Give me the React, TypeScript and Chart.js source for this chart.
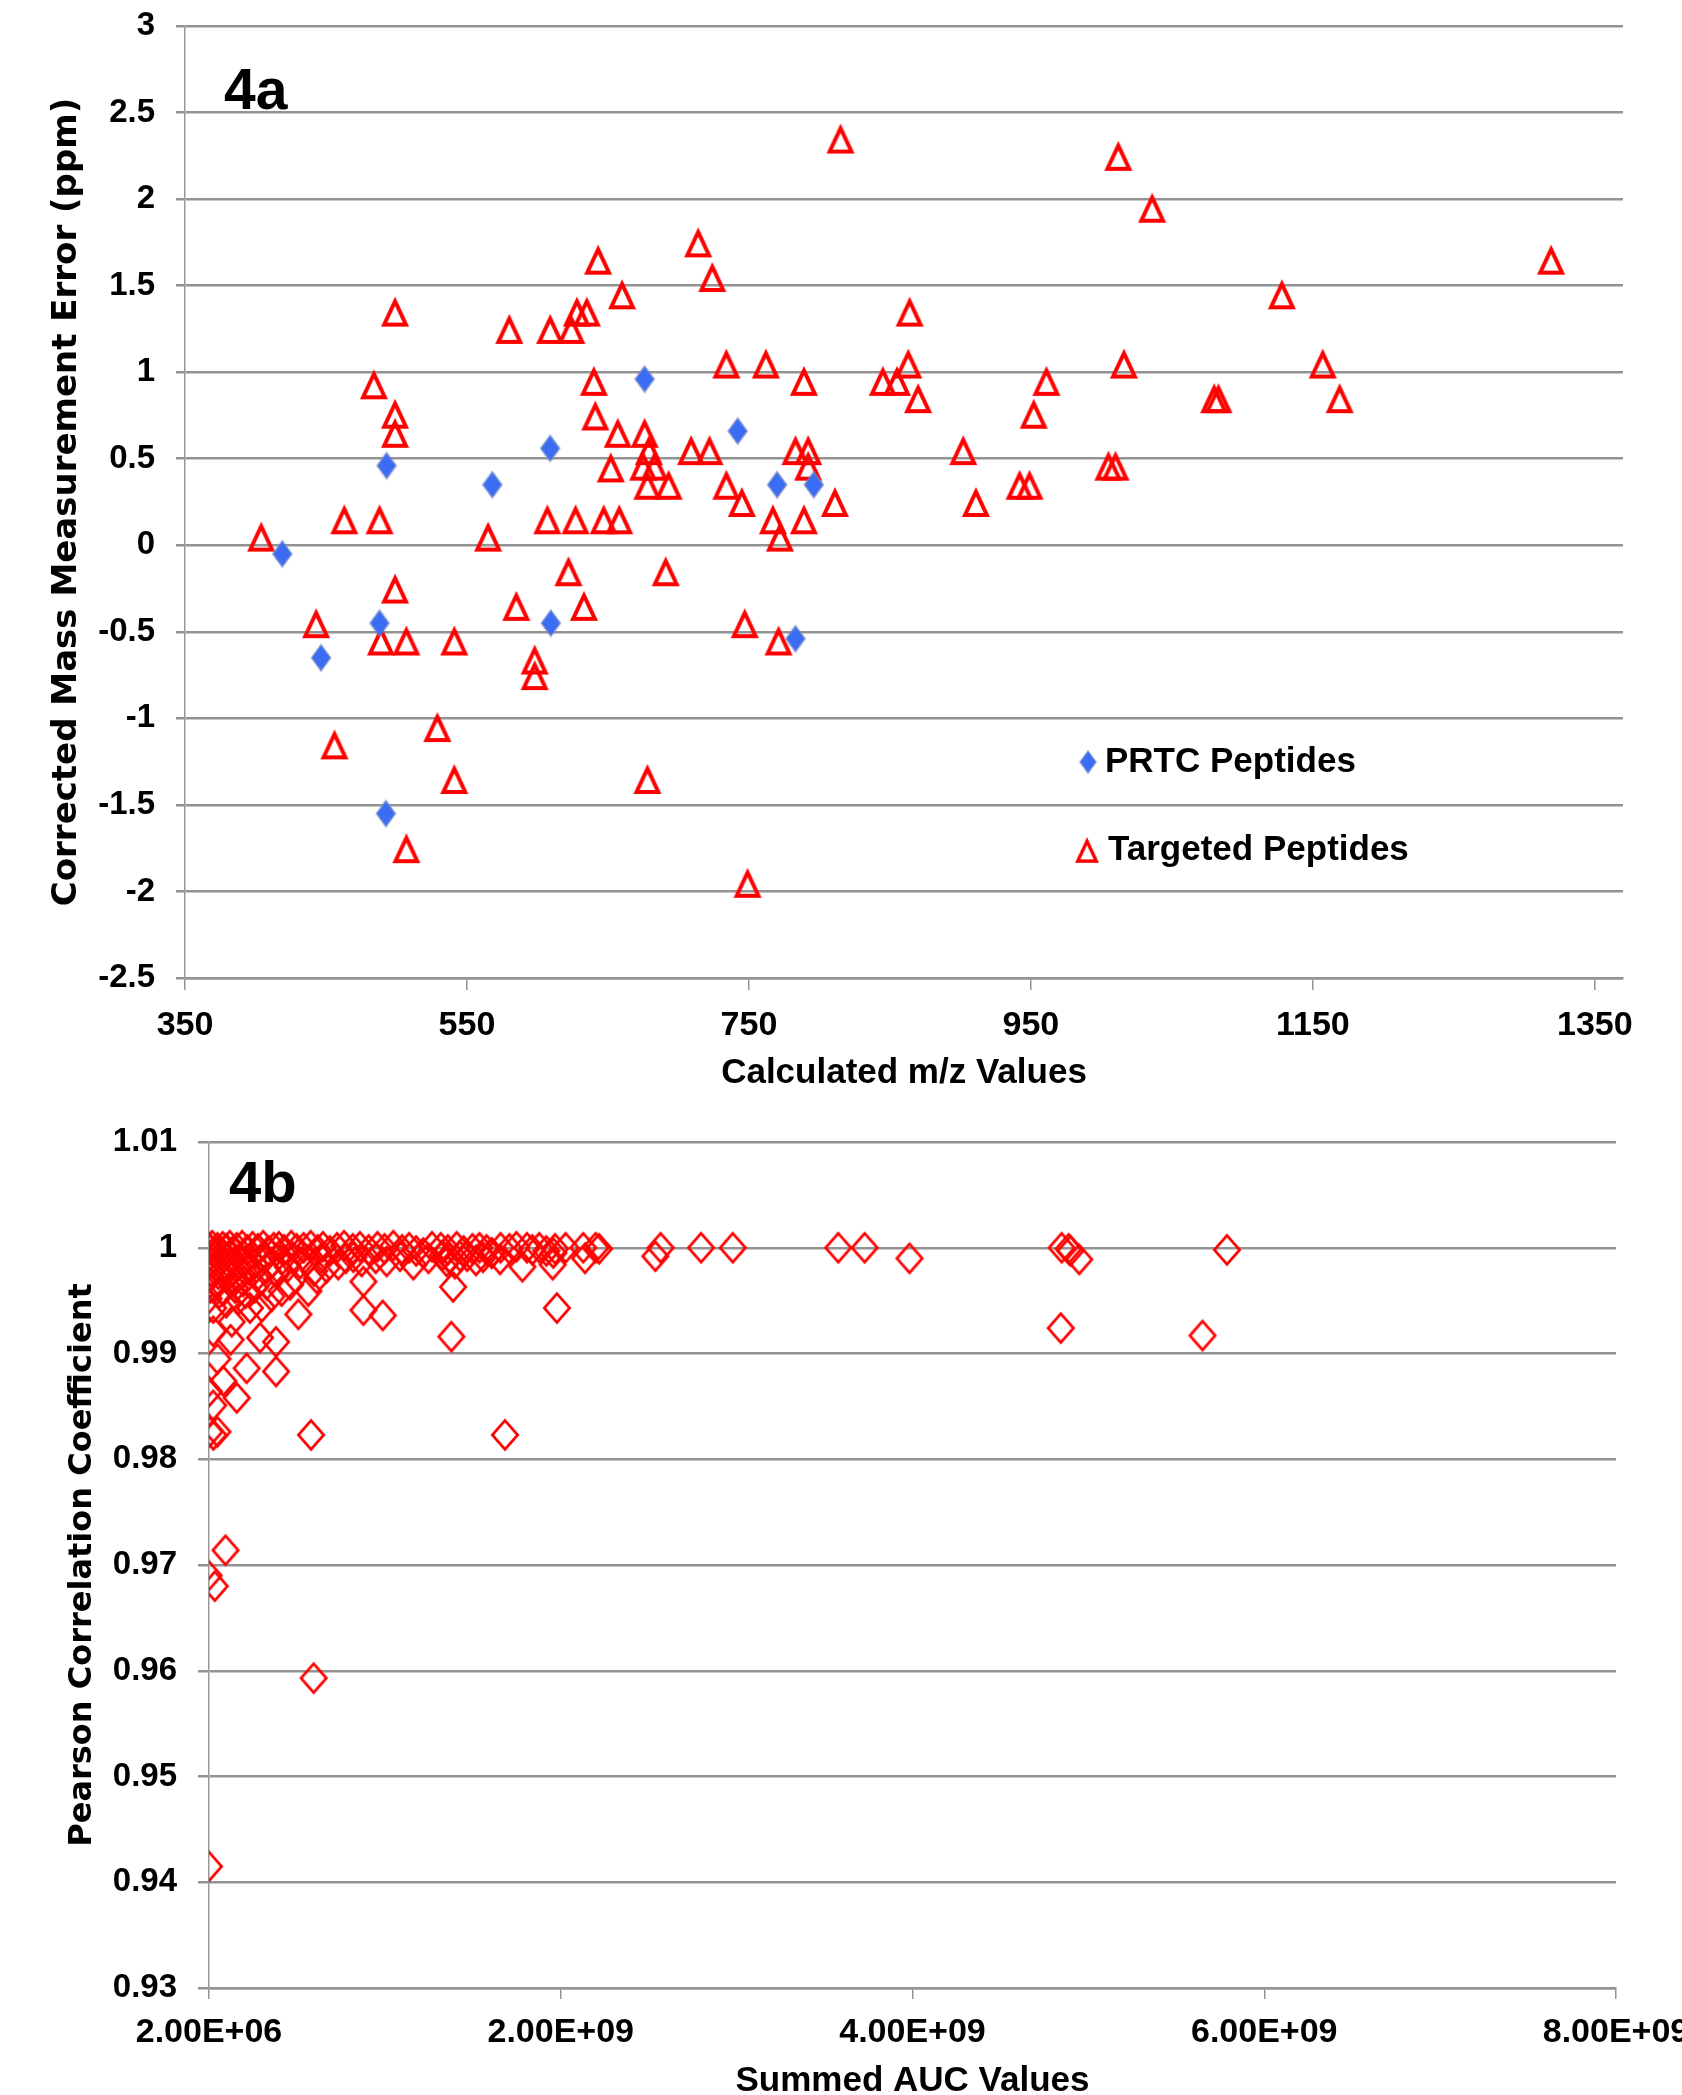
import React, { useEffect, useRef } from 'react';
import { Chart, registerables } from 'chart.js';

Chart.register(...registerables);

// ---------- Figure 4a data ----------
const mzPRTC = [419, 446.5, 488, 492.5, 493, 568, 609, 609.5, 676, 742, 770, 783, 796];
const errPRTC = [-0.05, -0.65, -0.45, -1.55, 0.46, 0.35, 0.56, -0.45, 0.96, 0.66, 0.35, -0.54, 0.35];

const mzTargeted = [
  404, 443, 456, 463, 484, 488, 489, 499, 499, 499,
  499, 507, 507, 529, 541, 541, 565, 580, 585, 598,
  598, 607, 609, 622, 624, 627, 628, 633, 635, 640,
  641, 643, 647, 652, 657, 658, 660, 676, 675, 679,
  678, 683, 678, 693, 691, 709, 714, 722, 724, 734,
  734, 745, 747, 749, 762, 767, 772, 771, 783, 789,
  789, 792, 792, 811, 815, 845, 855, 863, 864, 870,
  902, 911, 942, 949, 952, 961, 1005, 1010, 1012, 1016,
  1036, 1080, 1083, 1128, 1157, 1169, 1319,
];
const errTargeted = [
  0.05, -0.45, -1.15, 0.15, 0.93, 0.15, -0.55, 0.76, 0.65, 1.35,
  -0.25, -0.55, -1.75, -1.05, -0.55, -1.35, 0.05, 1.25, -0.35, -0.66,
  -0.75, 0.15, 1.25, -0.15, 1.25, 0.15, 1.35, -0.35, 1.35, 0.95,
  0.75, 1.65, 0.15, 0.45, 0.65, 0.15, 1.45, 0.65, 0.46, 0.55,
  0.35, 0.46, -1.35, 0.35, -0.15, 0.55, 1.75, 0.55, 1.55, 1.05,
  0.35, 0.25, -0.45, -1.95, 1.05, 0.15, 0.05, -0.55, 0.55, 0.95,
  0.15, 0.55, 0.46, 0.25, 2.35, 0.95, 0.95, 1.05, 1.35, 0.85,
  0.55, 0.25, 0.35, 0.35, 0.76, 0.95, 0.46, 0.46, 2.25, 1.05,
  1.95, 0.85, 0.85, 1.45, 1.05, 0.85, 1.65,
];

const xTicksA = [350, 550, 750, 950, 1150, 1350];
const xTickLabelsA = ['350', '550', '750', '950', '1150', '1350'];
const yTicksA = [-2.5, -2, -1.5, -1, -0.5, 0, 0.5, 1, 1.5, 2, 2.5, 3];
const yTickLabelsA = ['-2.5', '-2', '-1.5', '-1', '-0.5', '0', '0.5', '1', '1.5', '2', '2.5', '3'];

// ---------- Figure 4b data ----------
const aucValues = [
  // top band
  0.002e9, 0.01e9, 0.02e9, 0.035e9, 0.05e9, 0.065e9, 0.08e9, 0.1e9, 0.12e9, 0.14e9,
  0.16e9, 0.19e9, 0.22e9, 0.25e9, 0.28e9, 0.31e9, 0.34e9, 0.37e9, 0.4e9, 0.43e9,
  0.47e9, 0.5e9, 0.54e9, 0.58e9, 0.62e9, 0.65e9, 0.69e9, 0.73e9, 0.77e9, 0.82e9,
  0.86e9, 0.91e9, 0.96e9, 1.0e9, 1.05e9, 1.1e9, 1.14e9, 1.18e9, 1.22e9, 1.27e9,
  1.32e9, 1.36e9, 1.41e9, 1.45e9, 1.5e9, 1.54e9, 1.58e9, 1.61e9, 1.66e9, 1.71e9,
  1.75e9, 1.81e9, 1.84e9, 1.88e9, 1.92e9, 1.96e9, 1.97e9, 2.03e9, 2.13e9, 2.14e9,
  2.2e9, 2.22e9, 2.54e9, 2.57e9, 2.8e9, 2.98e9, 3.58e9, 3.73e9, 3.985e9, 4.85e9,
  4.89e9, 4.9e9, 4.95e9, 5.79e9,
  // second layer
  0.005e9, 0.015e9, 0.025e9, 0.04e9, 0.055e9, 0.07e9, 0.085e9, 0.1e9, 0.115e9, 0.13e9,
  0.15e9, 0.17e9, 0.19e9, 0.21e9, 0.23e9, 0.26e9, 0.28e9, 0.3e9, 0.33e9, 0.36e9,
  0.39e9, 0.42e9, 0.45e9, 0.48e9, 0.52e9, 0.56e9, 0.6e9, 0.64e9, 0.671e9, 0.737e9,
  0.78e9, 0.823e9, 0.87e9, 0.95e9, 1.012e9, 1.088e9, 1.164e9, 1.25e9, 1.354e9, 1.43e9,
  1.61e9, 1.657e9, 1.784e9, 1.956e9, 1.33e9, 1.37e9, 1.4e9, 1.47e9, 1.52e9, 1.56e9,
  // third layer
  0.0e9, 0.01e9, 0.026e9, 0.04e9, 0.06e9, 0.083e9, 0.1e9, 0.131e9, 0.15e9, 0.17e9,
  0.197e9, 0.21e9, 0.235e9, 0.26e9, 0.302e9, 0.33e9, 0.358e9, 0.415e9, 0.463e9, 0.51e9,
  0.567e9, 0.614e9, 0.88e9, 0.88e9, 0.99e9, 1.39e9, 1.98e9,
  // fourth layer
  0.026e9, 0.125e9, 0.292e9, 0.383e9, 0.216e9, 0.383e9, 0.083e9, 0.16e9, 0.002e9, 0.026e9,
  0.05e9, 1.38e9, 4.845e9, 5.651e9,
  // lowest
  0.005e9, 0.027e9, 0.05e9, 0.582e9, 1.685e9, 0.096e9, 0.0e9, 0.035e9, 0.597e9, 0.002e9,
];
const pearsonValues = [
  // top band
  1.0, 0.9998, 1.0002, 0.9996, 1.0, 0.9997, 1.0001, 0.9999, 1.0002, 0.9997,
  1.0, 1.0002, 0.9998, 1.0001, 0.9999, 1.0002, 0.9997, 1.0, 1.0001, 0.9998,
  1.0002, 0.9999, 1.0, 1.0002, 0.9998, 1.0001, 0.9997, 1.0, 1.0002, 0.9999,
  1.0001, 0.9998, 1.0001, 0.9999, 1.0002, 0.9998, 1.0, 0.9997, 0.9995, 1.0001,
  1.0, 0.9998, 1.0001, 0.9997, 0.9999, 1.0, 0.9998, 0.9995, 1.0, 0.9999,
  1.0001, 1.0, 0.9998, 1.0, 0.9997, 0.9995, 0.9999, 1.0, 1.0, 0.999,
  1.0, 0.9999, 0.9992, 1.0, 1.0, 1.0, 1.0, 1.0, 0.999, 1.0,
  0.9999, 0.9997, 0.9989, 0.9998,
  // second layer
  0.9985, 0.9978, 0.999, 0.9982, 0.9975, 0.9988, 0.998, 0.9972, 0.9985, 0.9977,
  0.9969, 0.9983, 0.9975, 0.9988, 0.9979, 0.9985, 0.9974, 0.999, 0.998, 0.9986,
  0.9976, 0.9989, 0.9982, 0.9991, 0.9985, 0.9988, 0.9978, 0.999, 0.9981, 0.9984,
  0.999, 0.9991, 0.9987, 0.999, 0.9987, 0.9992, 0.9984, 0.999, 0.9987, 0.9992,
  0.9995, 0.9989, 0.9982, 0.9984, 0.9993, 0.999, 0.9985, 0.9992, 0.9988, 0.9991,
  // third layer
  0.9952, 0.9962, 0.9943, 0.9966, 0.9957, 0.9959, 0.9948, 0.993, 0.9962, 0.9951,
  0.9968, 0.9957, 0.9943, 0.9962, 0.9944, 0.9965, 0.9954, 0.9959, 0.9965, 0.9937,
  0.9959, 0.9971, 0.9968, 0.9941, 0.9936, 0.9963, 0.9943,
  // fourth layer
  0.9921, 0.9913, 0.9915, 0.9911, 0.9886, 0.9883, 0.9874, 0.9858, 0.9864, 0.9851,
  0.9895, 0.9916, 0.9924, 0.9917,
  // lowest
  0.9826, 0.9823, 0.9826, 0.9823, 0.9823, 0.9714, 0.969, 0.968, 0.9593, 0.9415,
];

const xTicksB = [2e6, 2.002e9, 4.002e9, 6.002e9, 8.002e9];
const xTickLabelsB = ['2.00E+06', '2.00E+09', '4.00E+09', '6.00E+09', '8.00E+09'];
const yTicksB = [0.93, 0.94, 0.95, 0.96, 0.97, 0.98, 0.99, 1.0, 1.01];
const yTickLabelsB = ['0.93', '0.94', '0.95', '0.96', '0.97', '0.98', '0.99', '1', '1.01'];

// ---------- styles ----------
const FONT = "'Liberation Sans', Arial, sans-serif";
const TITLE_FONT = "'DejaVu Sans', Verdana, sans-serif";
const GRID = '#939393';
const RED = '#ff0000';
const BLUE = '#3b6cf4';

function makeCanvas(w: number, h: number) {
  const c = document.createElement('canvas');
  c.width = w;
  c.height = h;
  return c;
}

function triangleMarker() {
  const c = makeCanvas(40, 40);
  const g = c.getContext('2d')!;
  g.strokeStyle = RED;
  g.lineWidth = 4;
  g.lineJoin = 'miter';
  g.beginPath();
  g.moveTo(20, 9.7);
  g.lineTo(30.9, 33);
  g.lineTo(9.1, 33);
  g.closePath();
  g.stroke();
  return c;
}

function blueDiamondMarker() {
  const c = makeCanvas(30, 34);
  const g = c.getContext('2d')!;
  g.fillStyle = BLUE;
  g.strokeStyle = 'rgba(120,140,190,0.55)';
  g.lineWidth = 2;
  g.beginPath();
  g.moveTo(15, 4);
  g.lineTo(24.5, 17);
  g.lineTo(15, 30);
  g.lineTo(5.5, 17);
  g.closePath();
  g.fill();
  g.stroke();
  return c;
}

function diamondMarker() {
  const c = makeCanvas(40, 40);
  const g = c.getContext('2d')!;
  g.strokeStyle = RED;
  g.lineWidth = 2.7;
  g.lineJoin = 'miter';
  g.beginPath();
  g.moveTo(20, 20 - 14.45);
  g.lineTo(20 + 12.7, 20);
  g.lineTo(20, 20 + 14.45);
  g.lineTo(20 - 12.7, 20);
  g.closePath();
  g.stroke();
  return c;
}

const panelLabelPlugin = {
  id: 'panelLabel',
  afterDraw(chart: any, _args: any, opts: any) {
    const { ctx, chartArea } = chart;
    ctx.save();
    ctx.font = `bold ${opts.size}px ${FONT}`;
    ctx.fillStyle = '#000';
    ctx.textBaseline = 'alphabetic';
    ctx.textAlign = 'left';
    ctx.fillText(opts.text, chartArea.left + opts.dx, chartArea.top + opts.dy);
    ctx.restore();
  },
};

const boxLegendPlugin = {
  id: 'boxLegend',
  afterDraw(chart: any, _args: any, opts: any) {
    const { ctx } = chart;
    ctx.save();
    ctx.font = `bold ${opts.size}px ${FONT}`;
    ctx.fillStyle = '#000';
    ctx.textBaseline = 'alphabetic';
    ctx.textAlign = 'left';
    chart.data.datasets.forEach((ds: any, i: number) => {
      const it = opts.items[i];
      const img = ds.pointStyle as HTMLCanvasElement;
      const w = img.width * it.scale;
      const h = img.height * it.scale;
      ctx.drawImage(img, it.mx - w / 2, it.my - h / 2, w, h);
      ctx.fillText(ds.label, it.tx, it.ty);
    });
    ctx.restore();
  },
};

function fixVertical(width: number) {
  return (s: any) => {
    s.width = width;
    s.paddingTop = 0;
    s.paddingBottom = 0;
  };
}

function fixHorizontal(height: number) {
  return (s: any) => {
    s.height = height;
    s.paddingLeft = 0;
    s.paddingRight = 0;
  };
}

export default function App() {
  const refA = useRef<HTMLCanvasElement>(null);
  const refB = useRef<HTMLCanvasElement>(null);

  useEffect(() => {
    const tri = triangleMarker();
    const blue = blueDiamondMarker();
    const dia = diamondMarker();

    const tickFont = (size: number) => ({ family: FONT, size, weight: 'bold' as const });

    const chartA = new Chart(refA.current!, {
      type: 'scatter',
      data: {
        datasets: [
          {
            label: 'PRTC Peptides',
            data: mzPRTC.map((x, i) => ({ x, y: errPRTC[i] })),
            pointStyle: blue as any,
            pointRadius: 10,
          },
          {
            label: 'Targeted Peptides',
            data: mzTargeted.map((x, i) => ({ x, y: errTargeted[i] })),
            pointStyle: tri as any,
            pointRadius: 10,
          },
        ],
      },
      options: {
        animation: false,
        responsive: false,
        devicePixelRatio: 1,
        events: [],
        layout: { padding: { left: 0, top: 26, right: 59, bottom: 0 } },
        plugins: {
          legend: { display: false },
          tooltip: { enabled: false },
          panelLabel: { text: '4a', size: 57, dx: 39, dy: 83 },
          boxLegend: {
            size: 35,
            items: [
              { mx: 1088, my: 762, tx: 1105, ty: 772, scale: 0.85 },
              { mx: 1087, my: 850, tx: 1108, ty: 860, scale: 0.85 },
            ],
          },
        } as any,
        scales: {
          x: {
            type: 'linear',
            min: 350,
            max: 1370,
            afterBuildTicks: (s: any) => {
              s.ticks = xTicksA.map((v) => ({ value: v }));
            },
            afterFit: fixHorizontal(122),
            grid: { drawOnChartArea: false, drawTicks: true, tickLength: 12, color: GRID, lineWidth: 1.5 },
            border: { display: true, color: GRID, width: 2.5 },
            ticks: {
              autoSkip: false,
              maxRotation: 0,
              padding: 15,
              color: '#000',
              font: tickFont(34),
              callback: (_v: any, i: number) => xTickLabelsA[i],
            },
            title: {
              display: true,
              text: 'Calculated m/z Values',
              color: '#000',
              font: tickFont(35),
              padding: { top: 0, bottom: 6 },
            },
          },
          y: {
            type: 'linear',
            min: -2.5,
            max: 3,
            afterBuildTicks: (s: any) => {
              s.ticks = yTicksA.map((v) => ({ value: v }));
            },
            afterFit: fixVertical(185),
            grid: { drawTicks: true, tickLength: 9, color: GRID, lineWidth: 2.5 },
            border: { display: true, color: '#999999', width: 1.5 },
            ticks: {
              autoSkip: false,
              padding: 21,
              color: '#000',
              font: tickFont(33),
              callback: (_v: any, i: number) => yTickLabelsA[i],
            },
            title: {
              display: true,
              text: 'Corrected Mass Measurement Error (ppm)',
              color: '#000',
              font: { family: TITLE_FONT, size: 34, weight: 'bold' },
              padding: { top: 47, bottom: 0 },
            },
          },
        },
      },
      plugins: [panelLabelPlugin, boxLegendPlugin],
    });

    const chartB = new Chart(refB.current!, {
      type: 'scatter',
      data: {
        datasets: [
          {
            label: 'Pearson Correlation',
            data: aucValues.map((x, i) => ({ x, y: pearsonValues[i] })),
            pointStyle: dia as any,
            pointRadius: 10,
          },
        ],
      },
      options: {
        animation: false,
        responsive: false,
        devicePixelRatio: 1,
        events: [],
        layout: { padding: { left: 0, top: 42, right: 144, bottom: 0 } },
        plugins: {
          legend: { display: false },
          tooltip: { enabled: false },
          panelLabel: { text: '4b', size: 58, dx: 20, dy: 60 },
        } as any,
        scales: {
          x: {
            type: 'linear',
            min: 2e6,
            max: 8.002e9,
            afterBuildTicks: (s: any) => {
              s.ticks = xTicksB.map((v) => ({ value: v }));
            },
            afterFit: fixHorizontal(132),
            grid: { drawOnChartArea: false, drawTicks: true, tickLength: 11, color: GRID, lineWidth: 1.5 },
            border: { display: true, color: GRID, width: 2.5 },
            ticks: {
              autoSkip: false,
              maxRotation: 0,
              padding: 13,
              color: '#000',
              font: tickFont(34),
              callback: (_v: any, i: number) => xTickLabelsB[i],
            },
            title: {
              display: true,
              text: 'Summed AUC Values',
              color: '#000',
              font: tickFont(35),
              padding: { top: 0, bottom: 18 },
            },
          },
          y: {
            type: 'linear',
            min: 0.93,
            max: 1.01,
            afterBuildTicks: (s: any) => {
              s.ticks = yTicksB.map((v) => ({ value: v }));
            },
            afterFit: fixVertical(209),
            grid: { drawTicks: true, tickLength: 11, color: GRID, lineWidth: 2.5 },
            border: { display: true, color: '#999999', width: 1.5 },
            ticks: {
              autoSkip: false,
              padding: 21,
              color: '#000',
              font: tickFont(33),
              callback: (_v: any, i: number) => yTickLabelsB[i],
            },
            title: {
              display: true,
              text: 'Pearson Correlation Coefficient',
              color: '#000',
              font: { family: TITLE_FONT, size: 32, weight: 'bold' },
              padding: { top: 63, bottom: 0 },
            },
          },
        },
      },
      plugins: [panelLabelPlugin],
    });

    return () => {
      chartA.destroy();
      chartB.destroy();
    };
  }, []);

  return (
    <div
      style={{
        position: 'absolute',
        left: 0,
        top: 0,
        width: 1682,
        height: 2095,
        overflow: 'hidden',
        background: '#ffffff',
      }}
    >
      <canvas ref={refA} width={1682} height={1100} style={{ position: 'absolute', left: 0, top: 0 }} />
      <canvas ref={refB} width={1760} height={1020} style={{ position: 'absolute', left: 0, top: 1100 }} />
    </div>
  );
}
